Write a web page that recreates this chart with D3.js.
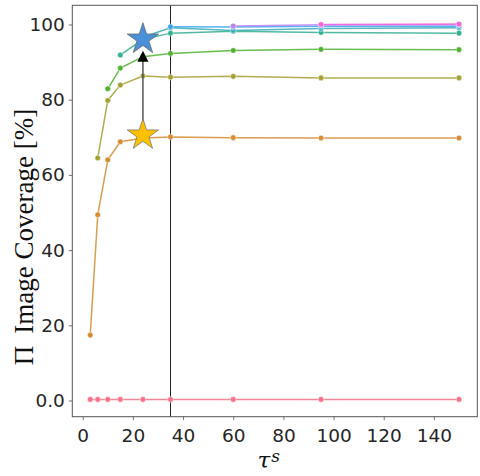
<!DOCTYPE html>
<html>
<head>
<meta charset="utf-8">
<script src="https://cdn.jsdelivr.net/npm/d3@7"></script>
<style>
  body { margin: 0; background: #fff; }
  svg { display: block; }
  .tick text { font-family: "DejaVu Sans", sans-serif; fill: #262626; }
</style>
</head>
<body>
<svg id="chart"></svg>
<script>
// data
var tauValues = [3, 6, 10, 15, 24, 35, 60, 95, 150];
var pinkSeries    = [0.3, 0.3, 0.3, 0.3, 0.3, 0.3, 0.3, 0.3, 0.3];
var orangeSeries  = [17.4, 49.4, 64.0, 68.8, 69.8, 70.1, 69.9, 69.8, 69.8];
var oliveSeries   = [null, 64.5, 79.8, 83.9, 86.3, 86.0, 86.2, 85.8, 85.8];
var greenSeries   = [null, null, 82.9, 88.4, 91.4, 92.3, 93.1, 93.4, 93.3];
var tealSeries    = [null, null, null, 91.9, 96.0, 97.7, 98.2, 97.9, 97.7];
var cyanSeries    = [null, null, null, null, 96.6, 99.1, 98.4, 98.9, 99.1];
var blueSeries    = [null, null, null, null, null, 99.4, 99.3, 99.5, 99.5];
var purpleSeries  = [null, null, null, null, null, null, 99.6, 99.9, 99.9];
var magentaSeries = [null, null, null, null, null, null, null, 100.0, 100.1];
var seriesColors = ["#f77189", "#d58c32", "#a4a031", "#50b131", "#34ae91", "#37abb4", "#3ba3ec", "#bb83f4", "#f564d4"];
var xTicks = [0, 20, 40, 60, 80, 100, 120, 140];
var yTicks = [0, 20, 40, 60, 80, 100];
var yTickLabels = ["0.0", "20", "40", "60", "80", "100"];
var thresholdTau = 35;
var startStar = {tau: 24, value: 70.6};
var endStar = {tau: 24, value: 96.1};
var arrowTip = 93.0;

var allSeries = [pinkSeries, orangeSeries, oliveSeries, greenSeries, tealSeries,
                 cyanSeries, blueSeries, purpleSeries, magentaSeries];

var W = 480, H = 476;
var margin = {top: 5.3, right: 2.7, bottom: 59.3, left: 72.3},
    width = W - margin.left - margin.right,
    height = H - margin.top - margin.bottom;

var x = d3.scaleLinear().domain([-4.15, 157.3]).range([0, width]);
var y = d3.scaleLinear().domain([-4.3, 105.1]).range([height, 0]);

var svg = d3.select("#chart").attr("width", W).attr("height", H)
  .append("g")
    .attr("transform", "translate(" + margin.left + "," + margin.top + ")");

// axes
var xAxis = d3.axisBottom(x).tickValues(xTicks).tickSize(3.5).tickPadding(4);
var yAxis = d3.axisLeft(y).tickValues(yTicks).tickSize(3.5).tickPadding(4)
    .tickFormat(function(d, i) { return yTickLabels[i]; });

var gx = svg.append("g")
    .attr("transform", "translate(0," + height + ")")
    .call(xAxis);
var gy = svg.append("g").call(yAxis);
[gx, gy].forEach(function(g) {
  g.select(".domain").remove();
  g.selectAll(".tick line").attr("stroke", "#555").attr("stroke-width", 0.8);
  g.selectAll(".tick text").style("font-size", "18.5px");
});
gx.selectAll(".tick text").attr("dy", "0.95em");

// threshold line
svg.append("line")
    .attr("x1", x(thresholdTau)).attr("x2", x(thresholdTau))
    .attr("y1", 0).attr("y2", height)
    .attr("stroke", "#222").attr("stroke-width", 1);

// series
var line = d3.line()
    .defined(function(d) { return d.v != null; })
    .x(function(d) { return x(d.t); })
    .y(function(d) { return y(d.v); });

allSeries.forEach(function(s, i) {
  var pts = s.map(function(v, j) { return {t: tauValues[j], v: v}; });
  svg.append("path")
      .datum(pts)
      .attr("d", line)
      .attr("fill", "none")
      .attr("stroke", seriesColors[i])
      .attr("stroke-width", 1.5)
      .attr("stroke-opacity", 0.85);
  svg.selectAll(".pt" + i)
      .data(pts.filter(function(d) { return d.v != null; }))
    .enter().append("circle")
      .attr("cx", function(d) { return x(d.t); })
      .attr("cy", function(d) { return y(d.v); })
      .attr("r", 2.8)
      .attr("fill", seriesColors[i])
      .attr("stroke", "#fff")
      .attr("stroke-width", 0.5);
});

// arrow + stars
svg.append("line")
    .attr("x1", x(startStar.tau)).attr("x2", x(startStar.tau))
    .attr("y1", y(startStar.value)).attr("y2", y(arrowTip) + 10)
    .attr("stroke", "#555").attr("stroke-width", 1.5);

var star = d3.symbol().type(d3.symbolStar).size(305);
svg.append("path")
    .attr("d", star)
    .attr("transform", "translate(" + x(startStar.tau) + "," + y(startStar.value) + ")")
    .attr("fill", "#ffc000").attr("stroke", "#7a7a7a").attr("stroke-width", 0.8);
svg.append("path")
    .attr("d", star)
    .attr("transform", "translate(" + x(endStar.tau) + "," + y(endStar.value) + ")")
    .attr("fill", "#4a90d9").attr("stroke", "#6a6a6a").attr("stroke-width", 0.8);

var tx = x(startStar.tau), ty = y(arrowTip);
svg.append("path")
    .attr("d", "M" + tx + "," + ty + "L" + (tx - 5.5) + "," + (ty + 11) + "L" + (tx + 5.5) + "," + (ty + 11) + "Z")
    .attr("fill", "#000");

// frame
svg.append("rect")
    .attr("width", width).attr("height", height)
    .attr("fill", "none").attr("stroke", "#555").attr("stroke-width", 1);

// axis labels
var xl = svg.append("text")
    .attr("x", width / 2 - 6)
    .attr("y", height + 51)
    .attr("text-anchor", "middle")
    .style("font-family", "'DejaVu Serif', serif")
    .style("font-style", "italic")
    .style("font-size", "23px")
    .style("fill", "#111");
xl.append("tspan").text("τ");
xl.append("tspan").attr("dy", "-0.35em").attr("dx", "1").style("font-size", "17px").text("s");

var yl = svg.append("text")
    .attr("transform", "translate(" + (33 - margin.left) + "," + (237 - margin.top) + ") rotate(-90)")
    .attr("text-anchor", "middle")
    .style("font-family", "'Liberation Serif', serif")
    .style("font-size", "27px")
    .style("fill", "#111");
yl.append("tspan").text("Π");
yl.append("tspan").attr("dx", "12").text("Image Coverage [%]");
</script>
</body>
</html>
